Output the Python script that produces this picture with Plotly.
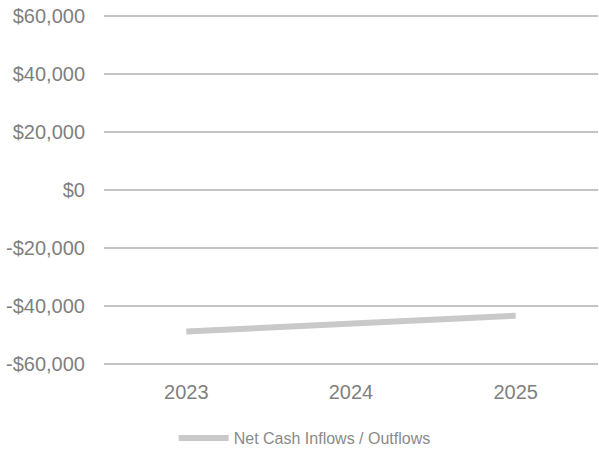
import plotly.graph_objects as go

years = ["2023", "2024", "2025"]
net_cash = [-48800, -46000, -43300]
series_name = "Net Cash Inflows / Outflows"
tick_vals = [-60000, -40000, -20000, 0, 20000, 40000, 60000]
tick_text = ["-$60,000", "-$40,000", "-$20,000", "$0", "$20,000", "$40,000", "$60,000"]

fig = go.Figure()
fig.add_trace(go.Scatter(
    x=years, y=net_cash, mode="lines", name=series_name,
    line=dict(color="#c9c9c9", width=6),
))

fig.update_layout(
    width=599, height=455,
    margin=dict(l=104, r=1, t=13, b=88),
    paper_bgcolor="white", plot_bgcolor="white",
    font=dict(family="Liberation Sans, Arial, sans-serif", color="#7f7f7f"),
    showlegend=True,
    legend=dict(
        orientation="h", xref="container", yref="container",
        x=0.29, xanchor="left", y=-0.01, yanchor="bottom",
        font=dict(size=16, color="#8a8a8a"),
        itemwidth=50,
    ),
)
fig.update_xaxes(
    type="category", range=[-0.5, 2.5],
    showgrid=False, showline=False, zeroline=False, ticks="",
    ticklabelstandoff=11,
    tickfont=dict(size=20, color="#7f7f7f"),
)
# pad the range so the outermost gridlines are drawn
fig.update_yaxes(
    range=[-61000, 61000], tickvals=tick_vals, ticktext=tick_text,
    showgrid=True, gridcolor="#c4c4c4", gridwidth=2,
    zeroline=False, showline=False, ticks="",
    ticklabelstandoff=18,
    tickfont=dict(size=20, color="#7f7f7f"),
)

fig.write_html("out.html")
